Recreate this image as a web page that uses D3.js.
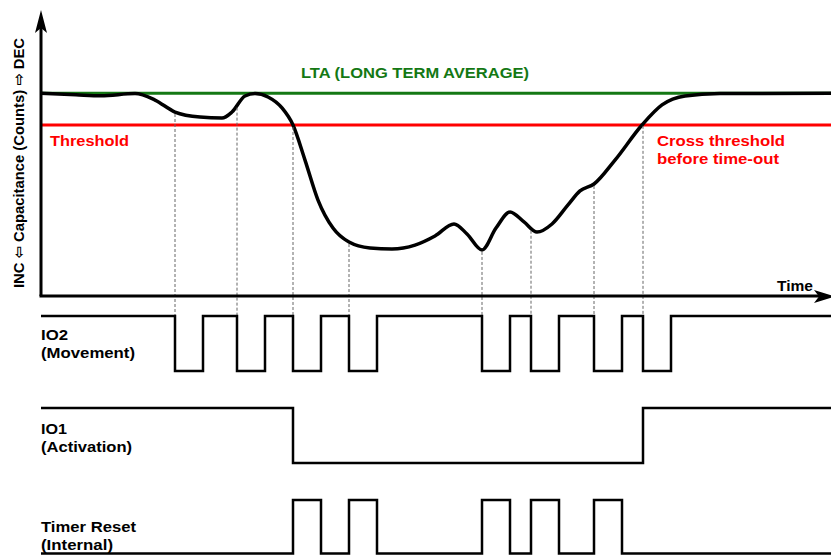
<!DOCTYPE html>
<html>
<head>
<meta charset="utf-8">
<script src="https://cdn.jsdelivr.net/npm/d3@7"></script>
<style>
  body { margin: 0; background: #fff; }
  text { font-family: "Liberation Sans", Arial, "DejaVu Sans", sans-serif; font-weight: bold; }
</style>
</head>
<body>
<div id="chart"></div>
<script>
// capacitance trace (time units, counts)
var capTime   = [0, 3.5, 6.0, 9.4, 11.4, 13.4, 15.9, 18.1, 19.1, 20.4, 21.4, 22.7, 24.1, 25.2, 26.4, 27.7, 29.2, 30.8, 32.9, 35.1, 37.4, 39.4, 41.3, 42.6, 44.1, 45.5, 46.9, 48.3, 49.6, 51.1, 52.7, 53.9, 55.3, 57.4, 60.1, 62.1, 64.4, 67.9, 79];
var capCounts = [100, 99.2, 98.7, 99.8, 96.6, 90.7, 88.2, 87.7, 90.7, 98.6, 99.8, 98.1, 92.7, 84.3, 67.0, 47.3, 33.5, 26.6, 23.7, 23.2, 25.1, 29.6, 35.5, 30.6, 22.7, 33.5, 41.4, 36.5, 31.5, 35.5, 44.9, 51.8, 55.2, 67.0, 84.3, 94.2, 98.6, 99.8, 100];
var ltaLevel = 100;
var thresholdLevel = 84.3;

// digital signals: start level + toggle times
var io2Start = 1;
var io2Edges = [13.4, 16.2, 19.6, 22.4, 25.2, 28.0, 30.8, 33.6, 44.1, 46.9, 49.0, 51.8, 55.3, 58.1, 60.2, 63.0];
var io1Start = 1;
var io1Edges = [25.2, 60.2];
var timerStart = 0;
var timerEdges = [25.2, 28.0, 30.8, 33.6, 44.1, 46.9, 49.0, 51.8, 55.3, 58.1];
var endTime = 79;

// sample points marked with dashed lines (IO2 falling edges)
var markerTimes = [13.4, 19.6, 25.2, 30.8, 44.1, 49.0, 55.3, 60.2];

var width = 831, height = 555;

var svg = d3.select("#chart").append("svg")
  .attr("width", width)
  .attr("height", height);

var x = d3.scaleLinear().domain([0, endTime]).range([41, 831]);
var y = d3.scaleLinear().domain([0, 140]).range([296, 12]);

// LTA and threshold lines
svg.append("line")
  .attr("x1", x(0)).attr("x2", x(endTime))
  .attr("y1", y(ltaLevel)).attr("y2", y(ltaLevel))
  .attr("stroke", "#147814").attr("stroke-width", 3);
svg.append("line")
  .attr("x1", x(0)).attr("x2", x(endTime))
  .attr("y1", y(thresholdLevel)).attr("y2", y(thresholdLevel))
  .attr("stroke", "#ff0000").attr("stroke-width", 3);

var capData = capTime.map(function(t, i) { return { t: t, v: capCounts[i] }; });

var capPath = svg.append("path")
  .datum(capData)
  .attr("fill", "none")
  .attr("stroke", "#000")
  .attr("stroke-width", 3.5)
  .attr("d", d3.line()
    .x(function(d) { return x(d.t); })
    .y(function(d) { return y(d.v); })
    .curve(d3.curveMonotoneX));

// find y of the trace at a given x by walking the path
function traceY(px) {
  var node = capPath.node();
  var len = node.getTotalLength();
  var lo = 0, hi = len;
  for (var i = 0; i < 40; i++) {
    var mid = (lo + hi) / 2;
    if (node.getPointAtLength(mid).x < px) lo = mid; else hi = mid;
  }
  return node.getPointAtLength(lo).y;
}

// lanes for the digital signals
var lanes = [
  { label: ["IO2", "(Movement)"], widths: [27, 94], start: io2Start, edges: io2Edges, hi: 316, lo: 371, textY: 340 },
  { label: ["IO1", "(Activation)"], widths: [26, 91], start: io1Start, edges: io1Edges, hi: 408, lo: 463, textY: 434 },
  { label: ["Timer Reset", "(Internal)"], widths: [95, 72], start: timerStart, edges: timerEdges, hi: 500, lo: 553.5, textY: 532 }
];

// dashed guide lines
svg.selectAll(".guide")
  .data(markerTimes)
  .enter()
  .append("line")
  .attr("class", "guide")
  .attr("x1", function(d) { return x(d); })
  .attr("x2", function(d) { return x(d); })
  .attr("y1", function(d) { return traceY(x(d)) + 2; })
  .attr("y2", lanes[0].hi)
  .attr("stroke", "#666")
  .attr("stroke-width", 1)
  .attr("stroke-dasharray", "3,2");

function steps(start, edges) {
  var pts = [{ t: 0, v: start }];
  var v = start;
  edges.forEach(function(e) { v = 1 - v; pts.push({ t: e, v: v }); });
  pts.push({ t: endTime, v: v });
  return pts;
}

lanes.forEach(function(lane) {
  var ly = d3.scaleLinear().domain([0, 1]).range([lane.lo, lane.hi]);
  svg.append("path")
    .datum(steps(lane.start, lane.edges))
    .attr("fill", "none")
    .attr("stroke", "#000")
    .attr("stroke-width", 2.5)
    .attr("stroke-linejoin", "miter")
    .attr("d", d3.line()
      .x(function(d) { return x(d.t); })
      .y(function(d) { return ly(d.v); })
      .curve(d3.curveStepAfter));

  svg.selectAll(null)
    .data(lane.label)
    .enter()
    .append("text")
    .attr("x", x(0))
    .attr("y", function(d, i) { return lane.textY + i * 17.5; })
    .attr("font-size", 15)
    .attr("fill", "#000")
    .attr("textLength", function(d, i) { return lane.widths[i]; })
    .attr("lengthAdjust", "spacingAndGlyphs")
    .text(function(d) { return d; });
});

// axes
svg.append("line")
  .attr("x1", x(0)).attr("x2", x(0))
  .attr("y1", 296).attr("y2", 24)
  .attr("stroke", "#000").attr("stroke-width", 3);
svg.append("path")
  .attr("d", "M41,10 L35,33 L41,28 L47,33 Z")
  .attr("fill", "#000");
svg.append("line")
  .attr("x1", x(0) - 1.5).attr("x2", 822)
  .attr("y1", 296).attr("y2", 296)
  .attr("stroke", "#000").attr("stroke-width", 3);
svg.append("path")
  .attr("d", "M835,296.5 L814,290 L819,296.5 L814,303 Z")
  .attr("fill", "#000");

// texts
svg.append("text")
  .attr("x", 50).attr("y", 146)
  .attr("font-size", 15).attr("fill", "#ff0000")
  .attr("textLength", 79).attr("lengthAdjust", "spacingAndGlyphs")
  .text("Threshold");

svg.append("text")
  .attr("x", 301).attr("y", 78)
  .attr("font-size", 15).attr("fill", "#147814")
  .attr("textLength", 228).attr("lengthAdjust", "spacingAndGlyphs")
  .text("LTA (LONG TERM AVERAGE)");

svg.append("text")
  .attr("x", 657).attr("y", 146)
  .attr("font-size", 15).attr("fill", "#ff0000")
  .attr("textLength", 128).attr("lengthAdjust", "spacingAndGlyphs")
  .text("Cross threshold");
svg.append("text")
  .attr("x", 657).attr("y", 164)
  .attr("font-size", 15).attr("fill", "#ff0000")
  .attr("textLength", 122).attr("lengthAdjust", "spacingAndGlyphs")
  .text("before time-out");

svg.append("text")
  .attr("x", 777).attr("y", 291)
  .attr("font-size", 15).attr("fill", "#000")
  .attr("textLength", 36).attr("lengthAdjust", "spacingAndGlyphs")
  .text("Time");

svg.append("text")
  .attr("transform", "translate(24,163) rotate(-90)")
  .attr("text-anchor", "middle")
  .attr("font-size", 15).attr("fill", "#000")
  .attr("textLength", 250).attr("lengthAdjust", "spacingAndGlyphs")
  .text("INC \u21E6 Capacitance (Counts) \u21E8 DEC");
</script>
</body>
</html>
